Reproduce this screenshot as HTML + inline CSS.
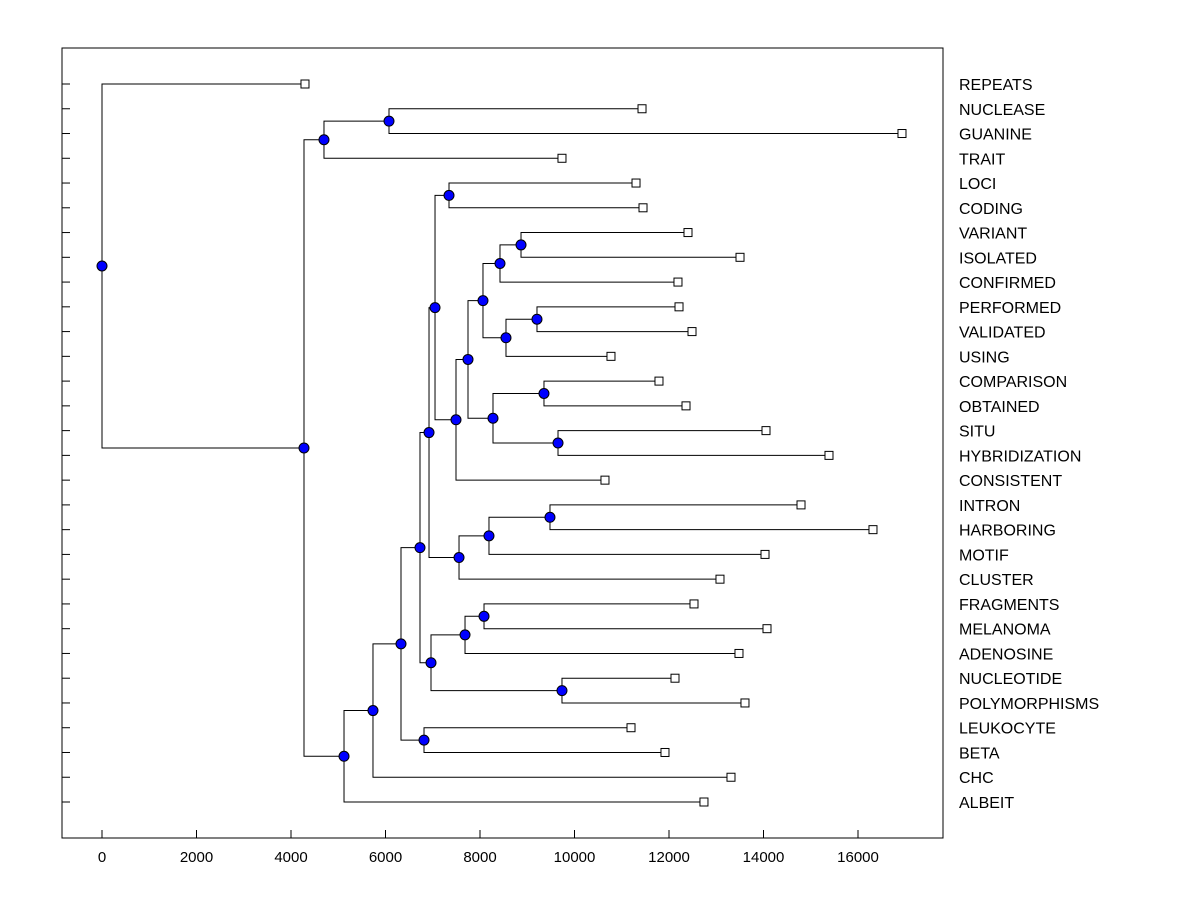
<!DOCTYPE html>
<html><head><meta charset="utf-8"><style>
body{margin:0;background:#fff;}
svg{display:block;font-family:"Liberation Sans",Arial,sans-serif;}
</style></head><body>
<svg id="chart" width="1200" height="900">
<rect x="62" y="48" width="881" height="790" fill="none" stroke="#000" stroke-width="1"/>
<g id="axis"></g><g id="links"></g><g id="marks"></g><g id="labels"></g>
</svg>
<script>
const leafNames = ["REPEATS","NUCLEASE","GUANINE","TRAIT","LOCI","CODING","VARIANT","ISOLATED","CONFIRMED","PERFORMED","VALIDATED","USING","COMPARISON","OBTAINED","SITU","HYBRIDIZATION","CONSISTENT","INTRON","HARBORING","MOTIF","CLUSTER","FRAGMENTS","MELANOMA","ADENOSINE","NUCLEOTIDE","POLYMORPHISMS","LEUKOCYTE","BETA","CHC","ALBEIT"];
const leafHeights = [4296,11429,16931,9735,11302,11450,12402,13503,12190,12212,12487,10772,11788,12360,14053,15386,10645,14794,16317,14032,13079,12529,14074,13481,12127,13608,11196,11915,13312,12740];
const mergeChildren = [
 ["L1","L2"],["N0","L3"],["L6","L7"],["N2","L8"],["L9","L10"],["N4","L11"],["N3","N5"],
 ["L12","L13"],["L14","L15"],["N7","N8"],["N6","N9"],["N10","L16"],["L4","L5"],["N12","N11"],
 ["L17","L18"],["N14","L19"],["N15","L20"],["N13","N16"],["L21","L22"],["N18","L23"],
 ["L24","L25"],["N19","N20"],["N17","N21"],["L26","L27"],["N22","N23"],["N24","L28"],
 ["N25","L29"],["N1","N26"],["L0","N27"]
];
const mergeHeights = [6074,4698,8868,8423,9206,8550,8063,9354,9651,8275,7746,7492,7344,7048,9481,8190,7556,6921,8085,7683,9735,6963,6730,6815,6328,5735,5122,4275,0];
const xTicks = [0,2000,4000,6000,8000,10000,12000,14000,16000];

const NS="http://www.w3.org/2000/svg";
const X = v => 102 + v*0.04725;
const Y = i => 84 + i*(802-84)/29;
function mk(tag, attrs, parent){const e=document.createElementNS(NS,tag);for(const k in attrs)e.setAttribute(k,attrs[k]);document.getElementById(parent).appendChild(e);return e;}

xTicks.forEach(v=>{
  const t=mk("line",{x1:X(v),x2:X(v),y1:838,y2:830,stroke:"#000"},"axis");
  
  
  const l=mk("text",{x:X(v),y:862,"font-size":15,"text-anchor":"middle"},"axis");
  l.textContent=v;
  
  
});
leafNames.forEach((n,i)=>{
  const t=mk("line",{x1:62,x2:70,y1:Y(i),y2:Y(i),stroke:"#000"},"axis");
  
  
  const l=mk("text",{x:959,y:Y(i)+6,"font-size":16},"labels");
  l.textContent=n;
  
  
});
function pos(id){
  const k=+id.slice(1);
  if(id[0]==="L") return {x:X(leafHeights[k]),y:Y(k)};
  const a=pos(mergeChildren[k][0]), b=pos(mergeChildren[k][1]);
  return {x:X(mergeHeights[k]),y:(a.y+b.y)/2};
}
mergeChildren.forEach((ch,k)=>{
  const p=pos("N"+k);
  ch.forEach(c=>{
    const q=pos(c);
    const e=mk("path",{d:`M${p.x},${p.y}V${q.y}H${q.x}`,fill:"none",stroke:"#000","stroke-width":1},"links");
    
    
  });
});
leafNames.forEach((n,i)=>{
  const p=pos("L"+i);
  const s=mk("rect",{x:p.x-4,y:p.y-4,width:8,height:8,fill:"#fff",stroke:"#000"},"marks");
  
  
});
mergeChildren.forEach((c,k)=>{
  const p=pos("N"+k);
  const s=mk("circle",{cx:p.x,cy:p.y,r:5,fill:"#0000ff",stroke:"#000","stroke-width":1},"marks");
  
  
});
</script>
</body></html>
